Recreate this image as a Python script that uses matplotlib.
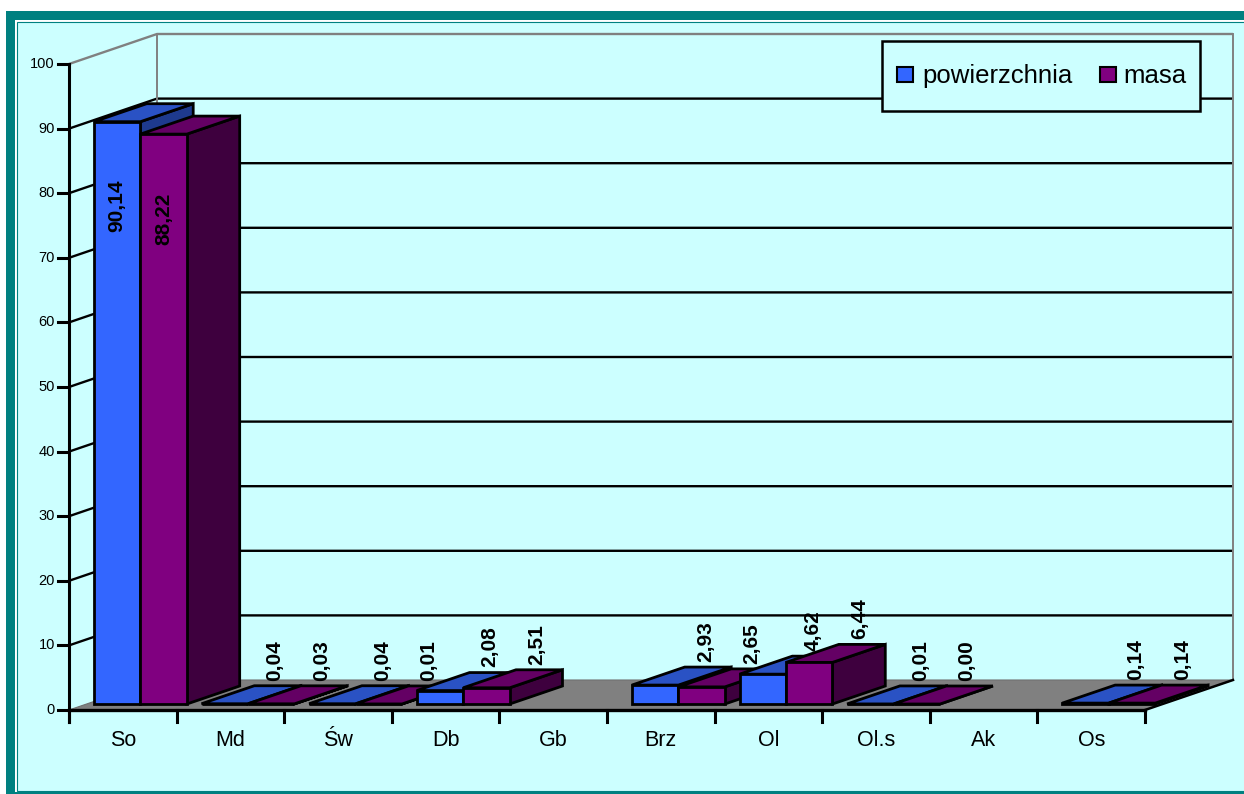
import matplotlib
matplotlib.use('Agg')
import matplotlib.pyplot as plt
from matplotlib.patches import Polygon, Rectangle

# ---------------- data ----------------
categories = ['So', 'Md', 'Św', 'Db', 'Gb', 'Brz', 'Ol', 'Ol.s', 'Ak', 'Os']
powierzchnia = [90.14, 0.04, 0.04, 2.08, None, 2.93, 4.62, 0.01, None, 0.14]
masa = [88.22, 0.03, 0.01, 2.51, None, 2.65, 6.44, 0.00, None, 0.14]
series_names = ['powierzchnia', 'masa']
y_ticks = list(range(0, 101, 10))

plt.rcParams['font.family'] = ['Liberation Sans', 'DejaVu Sans']

# ---------------- layout ----------------
W, H = 1244, 794
fig = plt.figure(figsize=(W / 100, H / 100), dpi=100)
fig.patch.set_facecolor('white')

TEAL = '#008080'
CYAN = '#CCFFFF'


def frect(px0, py0, px1, py1, **kw):
    r = Rectangle((px0 / W, 1 - py1 / H), (px1 - px0) / W, (py1 - py0) / H,
                  transform=fig.transFigure, **kw)
    fig.add_artist(r)
    return r


frect(6, 11, W + 5, H + 5, facecolor=TEAL, edgecolor='none', zorder=-3)
frect(15, 20, W + 5, 792, facecolor='white', edgecolor='none', zorder=-2)
frect(16.5, 21.5, W + 5, 790.5, facecolor=CYAN, edgecolor=TEAL, lw=0.8, zorder=-1)

X0, Y0 = 69, 710          # pixel position of front origin
CAT_W = 107.6             # pixels per category
VAL_H = 6.46              # pixels per value unit
ax = fig.add_axes([0, 0, 1, 1])
ax.set_zorder(1)
ax.set_xlim(-X0 / CAT_W, (W - X0) / CAT_W)
ax.set_ylim((Y0 - H) / VAL_H, Y0 / VAL_H)
ax.axis('off')
ax.patch.set_visible(False)

DX = 88 / CAT_W           # depth offset in category units
DY = 30 / VAL_H           # depth offset in value units
NC = len(categories)
YMAX = y_ticks[-1]


def proj(cx, v, z):
    return (cx + z * DX, v + z * DY)


GRID_LW = 1.7
# walls
for v in y_ticks[1:]:
    col = '#808080' if v == YMAX else 'black'
    ax.plot([0, DX, NC + DX], [v, v + DY, v + DY], color=col, lw=GRID_LW,
            solid_capstyle='butt', zorder=1)
ax.plot([DX, DX], [DY, YMAX + DY], color='#808080', lw=1.4, zorder=1)
ax.plot([NC + DX, NC + DX], [DY, YMAX + DY], color='#808080', lw=1.4, zorder=1)

# floor
ax.add_patch(Polygon([proj(0, 0, 0), proj(NC, 0, 0), proj(NC, 0, 1), proj(0, 0, 1)],
                     closed=True, facecolor='#808080', edgecolor='#707070', lw=0.8,
                     zorder=2))
ax.plot([NC, NC + DX], [0, DY], color='black', lw=1.8, zorder=2.5)

# axes lines
ax.plot([0, 0], [-12 / VAL_H, YMAX], color='black', lw=2.2, zorder=50)
ax.plot([0, NC], [0, 0], color='black', lw=2.4, zorder=50)
for v in y_ticks:
    ax.plot([-11 / CAT_W, 0], [v, v], color='black', lw=2.2, zorder=50)
    ax.text(-14 / CAT_W, v, str(v), ha='right', va='center', fontsize=10.5,
            color='black', zorder=50)
for i in range(NC + 1):
    ax.plot([i, i], [0, -12 / VAL_H], color='black', lw=2.2, zorder=50)
for i, c in enumerate(categories):
    ax.text(i + 0.5, -31 / VAL_H, c, ha='center', va='center', fontsize=15.5,
            color='black', zorder=50)

# bars
BAR_W = 0.432
Z0, Z1 = 0.2, 0.8
colors = [
    {'front': '#3366FF', 'top': '#2A52C4', 'side': '#1E3A8E'},
    {'front': '#800080', 'top': '#640064', 'side': '#3E003E'},
]
series = [powierzchnia, masa]
zo = 10
labels = []
for i in range(NC):
    for s, vals in enumerate(series):
        h = vals[i]
        if h is None:
            continue
        x0 = i + 0.5 - BAR_W + s * BAR_W
        x1 = x0 + BAR_W
        cset = colors[s]
        front = [proj(x0, 0, Z0), proj(x1, 0, Z0), proj(x1, h, Z0), proj(x0, h, Z0)]
        top = [proj(x0, h, Z0), proj(x1, h, Z0), proj(x1, h, Z1), proj(x0, h, Z1)]
        side = [proj(x1, 0, Z0), proj(x1, 0, Z1), proj(x1, h, Z1), proj(x1, h, Z0)]
        for poly, key in ((side, 'side'), (top, 'top'), (front, 'front')):
            ax.add_patch(Polygon(poly, closed=True, facecolor=cset[key],
                                 edgecolor='black', lw=2.0, joinstyle='miter',
                                 zorder=zo))
            zo += 0.01
        zo += 0.1
        txt = f'{h:.2f}'.replace('.', ',')
        if h + Z1 * DY + 9 > YMAX:
            cx, cy = proj((x0 + x1) / 2, h, Z0)
            labels.append((cx, cy - 9.0, txt, 'top'))
        else:
            cx, cy = proj((x0 + x1) / 2, h, Z1)
            labels.append((cx - 0.025, cy + 0.8, txt, 'bottom'))

for cx, cy, txt, va in labels:
    ax.text(cx, cy, txt, rotation=90, ha='center', va=va, fontsize=15,
            fontweight='bold', color='black', zorder=60)

# legend
frect(882, 41, 1200, 111, facecolor=CYAN, edgecolor='black', lw=1.8, zorder=5)
leg_items = [(897, 922), (1100, 1123)]
for (sx, tx), name, cset in zip(leg_items, series_names, colors):
    frect(sx, 67, sx + 16, 82, facecolor=cset['front'], edgecolor='black', lw=1.5,
          zorder=6)
    fig.text(tx / W, 1 - 83 / H, name, ha='left', va='baseline', fontsize=18.5,
             color='black', zorder=6)

fig.savefig('out.png', dpi=100, facecolor=fig.get_facecolor())
